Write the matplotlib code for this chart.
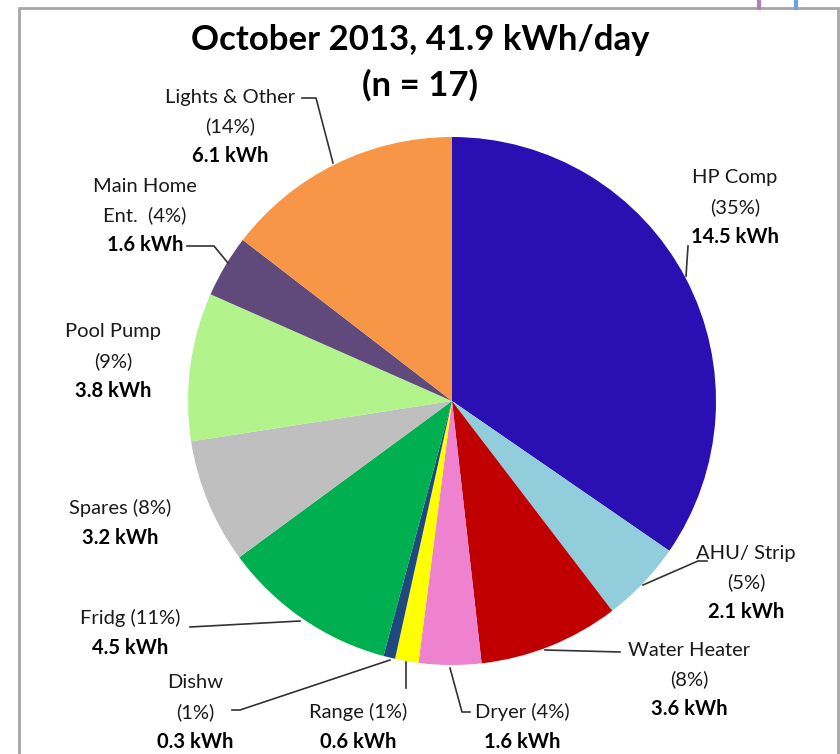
import matplotlib.pyplot as plt
from matplotlib.patches import Rectangle

plt.rcParams['font.family'] = ['Lato', 'DejaVu Sans']

names = ['HP Comp', 'AHU/ Strip', 'Water Heater', 'Dryer', 'Range', 'Dishw',
         'Fridg', 'Spares', 'Pool Pump', 'Main Home Ent.', 'Lights & Other']
kwh = [14.5, 2.1, 3.6, 1.6, 0.6, 0.3, 4.5, 3.2, 3.8, 1.6, 6.1]
pct = [35, 5, 8, 4, 1, 1, 11, 8, 9, 4, 14]
colors = ['#2a0fb2', '#92cddc', '#c00000', '#ee82cf', '#ffff00', '#1f497d',
          '#00b050', '#bfbfbf', '#b3f38c', '#604a7b', '#f79646']

W, H = 840, 754
fig = plt.figure(figsize=(W / 100, H / 100), dpi=100)
ax = fig.add_axes([0, 0, 1, 1])


def py(y):
    # pixel row (from top) -> data y
    return H - y


ax.pie(kwh, colors=colors, startangle=90, counterclock=False,
       center=(452, py(401)), radius=264, frame=True)
ax.set_xlim(0, W)
ax.set_ylim(0, H)
ax.set_aspect('equal')
ax.axis('off')

# frame of the chart area and stray marks of neighbouring charts
ax.add_patch(Rectangle((19, -5), 819, py(8) + 5, fill=False,
                       edgecolor='#a6a6a6', lw=2))
ax.plot([759, 759], [py(0), py(8)], color='#b27fb8', lw=3)
ax.plot([796, 796], [py(0), py(8)], color='#6f9fe0', lw=3)

ax.text(420, py(40), 'October 2013, 41.9 kWh/day', ha='center', va='center',
        fontsize=25, fontweight='bold')
ax.text(420, py(85), '(n = 17)', ha='center', va='center',
        fontsize=25, fontweight='bold')

# label blocks, in pie order: (x centre, first line y, text lines)
fs = 14.5
step = 29.5
blocks = [
    (735, 178, ['HP Comp', '(35%)']),
    (746, 553, ['AHU/ Strip', '(5%)']),
    (689, 650, ['Water Heater', '(8%)']),
    (522, 712, ['Dryer (4%)']),
    (358, 712, ['Range (1%)']),
    (195, 683, ['Dishw', '(1%)']),
    (130, 618, ['Fridg (11%)']),
    (120, 508, ['Spares (8%)']),
    (113, 332, ['Pool Pump', '(9%)']),
    (145, 186, ['Main Home', 'Ent.  (4%)']),
    (230, 97, ['Lights & Other', '(14%)']),
]
for i, (x, y, lines) in enumerate(blocks):
    for k, s in enumerate(lines):
        ax.text(x, py(y + k * step), s, ha='center', va='center', fontsize=fs,
                color='#1a1a1a')
    ax.text(x, py(y + len(lines) * step), f'{kwh[i]} kWh', ha='center',
            va='center', fontsize=fs, fontweight='bold')

# leader lines (pixel coords)
leaders = [
    [(688, 246), (686, 276)],
    [(643, 585), (698, 561), (707, 561)],
    [(545, 650), (620, 652)],
    [(450, 668), (462, 712), (470, 712)],
    [(406, 662), (406, 688)],
    [(390, 660), (240, 710), (232, 710)],
    [(300, 621), (190, 627)],
    [(187, 246), (214, 246), (228, 263)],
    [(302, 98), (316, 98), (333, 163)],
]
for pts in leaders:
    ax.plot([p[0] for p in pts], [py(p[1]) for p in pts], color='#333333',
            lw=1.2)

fig.savefig('out.png', dpi=100)
